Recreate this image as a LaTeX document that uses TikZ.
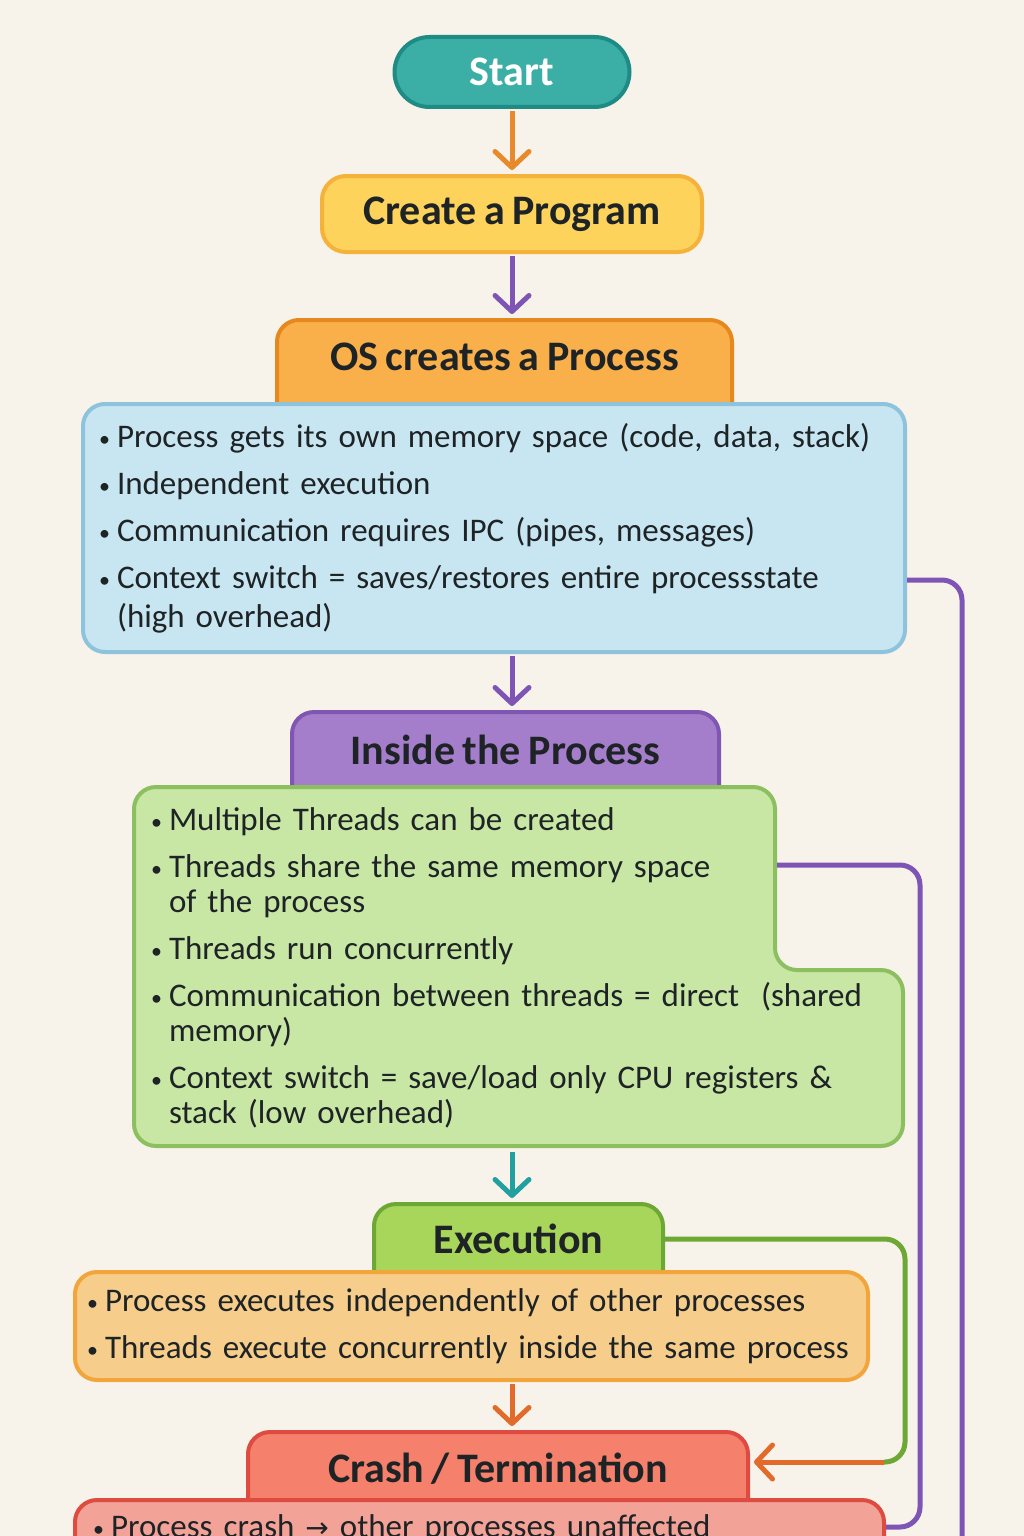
\documentclass[tikz,border=0pt]{standalone}
\usepackage{fontspec}
\setmainfont[WordSpace=0.8]{Carlito}
\newfontfamily\Sym{DejaVu Sans}
\usepackage{tikz}
\usetikzlibrary{arrows.meta}
\usetikzlibrary{positioning}
\definecolor{Paper}{HTML}{F8F3EA}
\definecolor{Ink}{HTML}{1E2326}
\definecolor{StartFill}{HTML}{3BAEA6}
\definecolor{StartLine}{HTML}{1E8B85}
\definecolor{ProgFill}{HTML}{FDD35B}
\definecolor{ProgLine}{HTML}{F4B23A}
\definecolor{OSFill}{HTML}{F9B04A}
\definecolor{OSLine}{HTML}{E5891F}
\definecolor{ProcFill}{HTML}{C8E6F1}
\definecolor{ProcLine}{HTML}{8DC3DC}
\definecolor{InFill}{HTML}{A57ECB}
\definecolor{InLine}{HTML}{7F56B2}
\definecolor{ThrFill}{HTML}{C8E6A4}
\definecolor{ThrLine}{HTML}{8CBF5F}
\definecolor{ExFill}{HTML}{A7D65A}
\definecolor{ExLine}{HTML}{6DA834}
\definecolor{RunFill}{HTML}{F6CD8A}
\definecolor{RunLine}{HTML}{F1A53B}
\definecolor{CrFill}{HTML}{F5806B}
\definecolor{CrLine}{HTML}{DE4B40}
\definecolor{CrBoxFill}{HTML}{F3A298}
\definecolor{FlowOrange}{HTML}{E8892B}
\definecolor{FlowPurple}{HTML}{7E55B5}
\definecolor{FlowTeal}{HTML}{22A0A0}
\definecolor{FlowRed}{HTML}{E26A2A}
\newcommand{\Bul}{\makebox[18pt][l]{\fontsize{22}{22}\selectfont\raisebox{1pt}{•}}}
\newcommand{\Ind}{\hspace*{18pt}}

\begin{document}
\begin{tikzpicture}[x=1pt, y=-1pt,
  title/.style={line width=4pt, text=Ink, font=\fontsize{42}{48}\selectfont\bfseries},
  tab/.style={title, rounded corners=22pt, inner ysep=0pt, anchor=north},
  box/.style={rounded corners=22pt, line width=4pt, align=left, inner xsep=16pt, text=Ink, font=\fontsize{33}{39}\selectfont},
  flow/.style={line width=5pt, shorten >=4pt, shorten <=2pt, -{Straight Barb[length=16pt,width=34pt,round]}},
  link/.style={line width=5pt, rounded corners=20pt}]
			\clip (0,0) rectangle (1024,1536);
			\fill[Paper] (0,0) rectangle (1024,1536);
			% top of the chart
			\node[title, draw=StartLine, fill=StartFill, rounded corners=35pt, minimum width=235pt, minimum height=70pt, text=white] (Start) at (512,72) {Start};
			\node[title, draw=ProgLine, fill=ProgFill, rounded corners=24pt, minimum width=380pt, minimum height=76pt] (Program) at (512,214) {Create a Program};
			\node[tab, draw=OSLine, fill=OSFill, minimum width=455pt, text height=50pt, text depth=64pt] (OSTab) at (504.5,318) {OS creates a Process};
			\node[box, draw=ProcLine, fill=ProcFill, minimum width=822pt, minimum height=248pt, text width=790pt] (ProcBox) at (494,528) {%
				\Bul Process gets its own memory space (code, data, stack)\\[8pt]
				\Bul Independent execution\\[8pt]
				\Bul Communication requires IPC (pipes, messages)\\[8pt]
				\Bul Context switch = saves/restores entire processstate\\
				\Ind (high overhead)};
			% threads
			\node[tab, draw=InLine, fill=InFill, minimum width=427pt, text height=52pt, text depth=48pt] (InsideTab) at (505.5,710) {Inside the Process};
			\filldraw[draw=ThrLine, fill=ThrFill, line width=4pt, rounded corners=22pt]
				(400,787) -- (775,787) -- (775,970) -- (903,970) -- (903,1146) -- (134,1146) -- (134,787) -- cycle;
			\node[box, font=\fontsize{33}{35}\selectfont, inner xsep=17pt, minimum width=769pt, minimum height=359pt, text width=735pt] (ThreadBox) at (518.5,968) {%
				\Bul Multiple Threads can be created\\[12pt]
				\Bul Threads share the same memory space\\
				\Ind of the process\\[12pt]
				\Bul Threads run concurrently\\[12pt]
				\Bul Communication between threads = direct\ \ (shared\\
				\Ind memory)\\[12pt]
				\Bul Context switch = save/load only CPU registers \&\\
				\Ind stack (low overhead)};
			\coordinate (ThreadNotch) at (777,865);
			% execution and end
			\node[tab, draw=ExLine, fill=ExFill, minimum width=289pt, text height=49pt, text depth=45pt] (ExecTab) at (518.5,1202) {Execution};
			\node[box, draw=RunLine, fill=RunFill, inner xsep=12pt, minimum width=793pt, minimum height=108pt, text width=769pt] (ExecBox) at (471.5,1326) {%
				\Bul Process executes independently of other processes\\[8pt]
				\Bul Threads execute concurrently inside the same process};
			\node[tab, draw=CrLine, fill=CrFill, minimum width=500pt, text height=50pt, text depth=42pt] (CrashTab) at (498,1430) {Crash / Termination};
			\node[box, draw=CrLine, fill=CrBoxFill, anchor=north, inner ysep=0pt, inner xsep=18pt, minimum width=809pt, text width=773pt, text height=37pt, text depth=90pt] (CrashBox) at (479.5,1498) {%
				\Bul Process crash {\Sym\fontsize{28}{28}\selectfont →} other processes unaffected};
			\coordinate (ProcDrop) at (962,1560);
			\coordinate (ThreadDrop) at (920,1527);
			\coordinate (ExecTurn) at (905,1462);
			\coordinate (CrashIn) at (884,1462);
			% arrows
			\draw[flow, FlowOrange] (Start) -- (Program);
			\draw[flow, FlowPurple] (Program) -- (Program.south |- OSTab.north);
			\draw[flow, FlowPurple] (ProcBox.south -| Program) -- (InsideTab.north -| Program);
			\draw[flow, FlowTeal] (ThreadBox.south -| Program) -- (ExecTab.north -| Program);
			\draw[flow, FlowRed] (ExecBox.south -| Program) -- (CrashTab.north -| Program);
			\draw[link, FlowPurple] ([yshift=-52pt]ProcBox.east) -| (ProcDrop);
			\draw[link, FlowPurple] (ThreadNotch) -| (ThreadDrop) -- (ThreadDrop -| CrashBox.east);
			\draw[link, ExLine] ([yshift=12pt]ExecTab.east) -| (ExecTurn) -- (CrashIn);
			\draw[flow, FlowRed, shorten <=0pt] (CrashIn) -- (CrashTab.east |- CrashIn);
		\end{tikzpicture}
\end{document}
